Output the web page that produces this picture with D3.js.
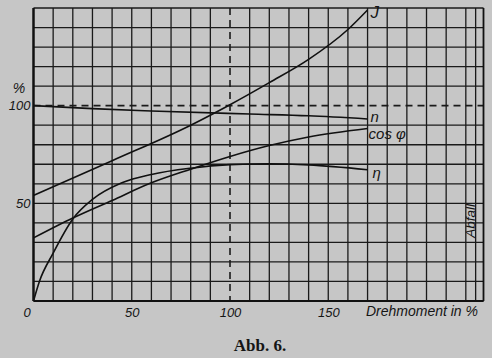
<!DOCTYPE html>
<html>
<head>
<meta charset="utf-8">
<script src="https://cdn.jsdelivr.net/npm/d3@7"></script>
<style>
  html, body { margin: 0; padding: 0; background: #c6c6c6; }
  svg text { font-family: "Liberation Sans", sans-serif; font-style: italic; fill: #151515; }
</style>
</head>
<body>
<div id="vis"></div>
<script>
// values (Drehmoment in %, values in %)
const xTicks = [0, 50, 100, 150]
const yTicks = [50, 100]
const gridX = d3.range(0, 221, 10).concat([225])
const gridY = d3.range(0, 151, 10)

const jX = [0, 40, 80, 100, 120, 140, 160, 170]
const jY = [54, 71.8, 90, 100.5, 111.8, 123.7, 139, 149]

const nX = [0, 10, 30, 60, 110, 140, 170]
const nY = [100, 99.5, 98.5, 97.3, 95.7, 94.8, 93.2]

const cosX = [0, 20, 40, 60, 80, 100, 120, 140, 170]
const cosY = [32.3, 42.5, 51.5, 60.5, 67.5, 74, 79.6, 84, 88.3]

const etaX = [0, 3, 10, 20, 30, 45, 60, 80, 100, 120, 140, 170]
const etaY = [0, 10, 24.5, 42, 52, 60.5, 64.8, 68, 69.8, 70.3, 69.7, 67.2]

const curveLabels = ["J", "n", "cos φ", "η"]

function createVis() {
    const width = 492, height = 358
    const left = 33.5, right = 483.5, top = 8, bottom = 301

    const svg = d3.select("#vis").append("svg")
        .attr("width", width)
        .attr("height", height)

    const x = d3.scaleLinear().domain([0, 229]).range([left, right])
    const y = d3.scaleLinear().domain([0, 150]).range([bottom, top])

    const g = svg.append("g")

    // grid
    g.append("g").selectAll("line").data(gridX).join("line")
        .attr("x1", d => x(d)).attr("x2", d => x(d))
        .attr("y1", top).attr("y2", bottom)
        .attr("stroke", "#1a1a1a")
        .attr("stroke-dasharray", d => d === 100 ? "7,5" : null)
        .attr("stroke-width", d => d === 100 ? 1.6 : 1.3)

    g.append("g").selectAll("line").data(gridY).join("line")
        .attr("x1", left).attr("x2", right)
        .attr("y1", d => y(d)).attr("y2", d => y(d))
        .attr("stroke", "#1a1a1a")
        .attr("stroke-dasharray", d => d === 100 ? "7,5" : null)
        .attr("stroke-width", d => d === 100 ? 1.6 : 1.3)

    // frame
    g.append("line").attr("x1", left).attr("x2", left).attr("y1", top).attr("y2", bottom)
        .attr("stroke", "#111").attr("stroke-width", 2.4)
    g.append("line").attr("x1", left).attr("x2", right).attr("y1", bottom).attr("y2", bottom)
        .attr("stroke", "#111").attr("stroke-width", 2.2)
    g.append("line").attr("x1", right).attr("x2", right).attr("y1", top).attr("y2", bottom)
        .attr("stroke", "#111").attr("stroke-width", 1.8)

    // curves
    const line = d3.line().x(d => x(d[0])).y(d => y(d[1])).curve(d3.curveMonotoneX)
    const series = [
        d3.zip(jX, jY),
        d3.zip(nX, nY),
        d3.zip(cosX, cosY),
        d3.zip(etaX, etaY)
    ]
    g.append("g").selectAll("path").data(series).join("path")
        .attr("d", line)
        .attr("fill", "none")
        .attr("stroke", "#111")
        .attr("stroke-width", 1.6)

    // curve labels
    const labelPos = [[jX, jY, 3, 8], [nX, nY, 3, 3], [cosX, cosY, 1, 10], [etaX, etaY, 5, 8]]
    g.append("g").selectAll("text").data(labelPos).join("text")
        .attr("x", d => x(d[0][d[0].length - 1]) + d[2])
        .attr("y", d => y(d[1][d[1].length - 1]) + d[3])
        .attr("font-size", (d, i) => i === 0 ? 17 : 15)
        .text((d, i) => curveLabels[i])

    // axes
    const xAxis = svg.append("g")
        .attr("transform", `translate(0,${bottom})`)
        .call(d3.axisBottom(x).tickValues(xTicks).tickSize(0).tickPadding(7))
    xAxis.select(".domain").remove()
    xAxis.selectAll("text").attr("font-size", 13).attr("font-family", null)
        .attr("dx", d => d === 0 ? -7 : 0)

    const yAxis = svg.append("g")
        .attr("transform", `translate(${left},0)`)
        .call(d3.axisLeft(y).tickValues(yTicks).tickSize(0).tickPadding(3))
    yAxis.select(".domain").remove()
    yAxis.selectAll("text").attr("font-size", 13).attr("font-family", null)

    svg.append("text")
        .attr("x", 19).attr("y", y(100) - 13)
        .attr("text-anchor", "middle").attr("font-size", 14)
        .text("%")

    svg.append("text")
        .attr("x", 478).attr("y", 316)
        .attr("text-anchor", "end").attr("font-size", 14)
        .text("Drehmoment in %")

    svg.append("text")
        .attr("transform", `translate(${x(221.5) + 1.5},${y(41)}) rotate(-90)`)
        .attr("text-anchor", "middle").attr("dominant-baseline", "central")
        .attr("font-size", 13.5)
        .text("Abfall")

    svg.append("text")
        .attr("x", 260).attr("y", 351)
        .attr("text-anchor", "middle")
        .style("font-family", "'Liberation Serif', serif")
        .style("font-style", "normal")
        .style("font-weight", "bold")
        .attr("font-size", 17)
        .text("Abb. 6.")
}

window.addEventListener('load', createVis)
</script>
</body>
</html>
